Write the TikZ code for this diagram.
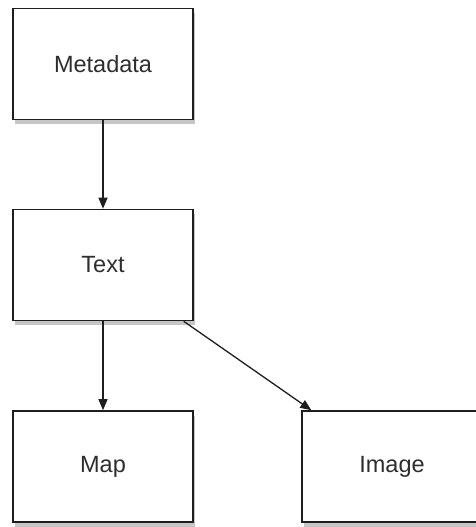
\documentclass[tikz,border=0pt]{standalone}
\usepackage{fontspec}
\setmainfont{Liberation Sans}
\usepackage{xcolor}
\usepackage{tikz}
\usetikzlibrary{arrows.meta,shadows}
\definecolor{Ink}{HTML}{1E1E1E}
\definecolor{Label}{HTML}{2E2E2E}

\begin{document}
\begin{tikzpicture}[x=1pt,y=-1pt,font=\fontsize{23.5}{28}\selectfont,
    block/.style={draw=Ink,fill=white,line width=1.6pt,text=Label,
      minimum width=180pt,minimum height=111pt,inner sep=0pt,
      drop shadow={shadow xshift=1.5pt,shadow yshift=-4.5pt,opacity=0.45}},
    link/.style={draw=Ink,line width=1.3pt,-{Triangle[length=11pt,width=9pt]}}]
  \path[use as bounding box,clip] (0,0) rectangle (476,527);

  % Metadata
  \node[block] (meta) at (103,64) {Metadata};

  % Text
  \node[block] (text) at (103,265) {Text};

  % Map
  \node[block] (map) at (103,466.5) {Map};

  % Image, cut by the right margin
  \node[block] (image) at (392,466.5) {Image};

  \draw[link] (meta) -- (text);
  \draw[link] (text) -- (map);
  \draw[link] (text) -- (image);
\end{tikzpicture}
\end{document}
